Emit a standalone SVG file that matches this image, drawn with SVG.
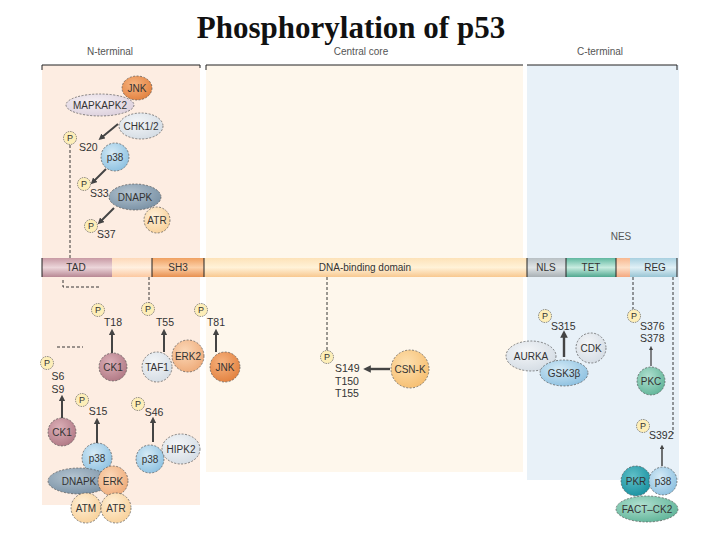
<svg xmlns="http://www.w3.org/2000/svg" width="720" height="540" viewBox="0 0 720 540">
<defs>
<style>
.t{font-family:"Liberation Sans",Arial,sans-serif;font-size:10.5px;fill:#333;}
.tc{font-family:"Liberation Sans",Arial,sans-serif;font-size:10px;fill:#333;text-anchor:middle;}
.lb{font-family:"Liberation Sans",Arial,sans-serif;font-size:10.5px;fill:#333;text-anchor:middle;}
.hd{font-family:"Liberation Sans",Arial,sans-serif;font-size:10px;fill:#555;text-anchor:middle;}
.n{stroke:#555;stroke-width:0.7;stroke-dasharray:2,1.5;}
.pc{fill:#fdeeb8;stroke:#555;stroke-width:0.7;stroke-dasharray:1.5,1;}
.pt{font-family:"Liberation Sans",Arial,sans-serif;font-size:9px;fill:#333;text-anchor:middle;}
.dash{stroke:#222;stroke-width:0.9;stroke-dasharray:3,2;fill:none;}
.arr{stroke:#444;stroke-width:2;fill:none;marker-end:url(#ah);}
.edge{stroke:#222;stroke-width:1;fill:none;}
</style>
<marker id="ah" viewBox="0 0 10 10" refX="5" refY="5" markerWidth="3.2" markerHeight="3.2" orient="auto"><path d="M0,0 L10,5 L0,10 z" fill="#444"/></marker>
<linearGradient id="bar" x1="0" y1="0" x2="0" y2="1"><stop offset="0" stop-color="#fde2b8"/><stop offset="0.5" stop-color="#fff2d8"/><stop offset="1" stop-color="#f8c890"/></linearGradient>
<linearGradient id="tad" x1="0" y1="0" x2="0" y2="1"><stop offset="0" stop-color="#c89aa4"/><stop offset="0.5" stop-color="#ecd6da"/><stop offset="1" stop-color="#b88894"/></linearGradient>
<linearGradient id="sh3" x1="0" y1="0" x2="0" y2="1"><stop offset="0" stop-color="#f0a060"/><stop offset="0.5" stop-color="#fcd0a8"/><stop offset="1" stop-color="#e89050"/></linearGradient>
<linearGradient id="nls" x1="0" y1="0" x2="0" y2="1"><stop offset="0" stop-color="#b8c0c4"/><stop offset="0.5" stop-color="#e0e4e6"/><stop offset="1" stop-color="#a8b0b4"/></linearGradient>
<linearGradient id="tet" x1="0" y1="0" x2="0" y2="1"><stop offset="0" stop-color="#60b8a0"/><stop offset="0.5" stop-color="#c8ece0"/><stop offset="1" stop-color="#50a890"/></linearGradient>
<linearGradient id="reg" x1="0" y1="0" x2="0" y2="1"><stop offset="0" stop-color="#a8d0e0"/><stop offset="0.5" stop-color="#e0f0f6"/><stop offset="1" stop-color="#98c4d4"/></linearGradient>
<linearGradient id="gap" x1="0" y1="0" x2="0" y2="1"><stop offset="0" stop-color="#f8b890"/><stop offset="0.5" stop-color="#fde0c8"/><stop offset="1" stop-color="#f4a880"/></linearGradient>
<linearGradient id="gapL" x1="0" y1="0" x2="0" y2="1"><stop offset="0" stop-color="#fdd8b8"/><stop offset="0.5" stop-color="#fff0e0"/><stop offset="1" stop-color="#fcc8a0"/></linearGradient>
<radialGradient id="gOr" cx="0.4" cy="0.35" r="0.7"><stop offset="0" stop-color="#f6b480"/><stop offset="1" stop-color="#e2803e"/></radialGradient>
<radialGradient id="gPe" cx="0.4" cy="0.35" r="0.7"><stop offset="0" stop-color="#fbd8b8"/><stop offset="1" stop-color="#eeaa78"/></radialGradient>
<radialGradient id="gLp" cx="0.4" cy="0.35" r="0.7"><stop offset="0" stop-color="#fff0d8"/><stop offset="1" stop-color="#f8d098"/></radialGradient>
<radialGradient id="gBl" cx="0.4" cy="0.35" r="0.7"><stop offset="0" stop-color="#d4eaf6"/><stop offset="1" stop-color="#8cc0e0"/></radialGradient>
<radialGradient id="gGr" cx="0.4" cy="0.35" r="0.7"><stop offset="0" stop-color="#f4f6f8"/><stop offset="1" stop-color="#d4dce4"/></radialGradient>
<radialGradient id="gLav" cx="0.4" cy="0.35" r="0.7"><stop offset="0" stop-color="#f6f0f4"/><stop offset="1" stop-color="#dcd0dc"/></radialGradient>
<radialGradient id="gMa" cx="0.4" cy="0.35" r="0.7"><stop offset="0" stop-color="#dcb0b8"/><stop offset="1" stop-color="#b07884"/></radialGradient>
<radialGradient id="gSl" cx="0.4" cy="0.35" r="0.7"><stop offset="0" stop-color="#b4c4d0"/><stop offset="1" stop-color="#7890a4"/></radialGradient>
<radialGradient id="gTe" cx="0.4" cy="0.35" r="0.7"><stop offset="0" stop-color="#b0e0d0"/><stop offset="1" stop-color="#60b498"/></radialGradient>
<radialGradient id="gTd" cx="0.4" cy="0.35" r="0.7"><stop offset="0" stop-color="#60c0c8"/><stop offset="1" stop-color="#1890a0"/></radialGradient>
<radialGradient id="gCs" cx="0.4" cy="0.35" r="0.7"><stop offset="0" stop-color="#fde0b0"/><stop offset="1" stop-color="#f6be70"/></radialGradient>
</defs>

<rect width="720" height="540" fill="#fff"/>

<!-- panels -->
<rect x="42" y="65" width="158" height="440" fill="#fdede2"/>
<rect x="206" y="65" width="317" height="407" fill="#fef7ec"/>
<rect x="527" y="65" width="152" height="415" fill="#e8f1f8"/>
<path class="edge" d="M42,70 V65 H200 V68"/>
<path class="edge" d="M206,70 V65 H523"/>
<path class="edge" d="M527,65 H677 V70"/>

<text x="351" y="38" font-family="Liberation Serif,serif" font-size="31" font-weight="bold" text-anchor="middle" fill="#111">Phosphorylation of p53</text>
<text class="hd" x="110" y="55">N-terminal</text>
<text class="hd" x="361" y="55">Central core</text>
<text class="hd" x="600" y="55">C-terminal</text>
<text class="hd" x="621" y="240">NES</text>

<!-- domain bar -->
<g id="bar-domains">
<rect x="42" y="258" width="635" height="19" fill="url(#bar)"/>
<rect x="112" y="258" width="40" height="19" fill="url(#gapL)"/>
<rect x="42" y="258" width="70" height="19" fill="url(#tad)"/>
<rect x="152" y="258" width="52" height="19" fill="url(#sh3)"/>
<rect x="527" y="258" width="39" height="19" fill="url(#nls)"/>
<rect x="566" y="258" width="50" height="19" fill="url(#tet)"/>
<rect x="616" y="258" width="14" height="19" fill="url(#gap)"/>
<rect x="630" y="258" width="47" height="19" fill="url(#reg)"/>
<path stroke="#222" stroke-width="1" d="M42,258V277M152,258V277M204,258V277M527,258V277M566,258V277M616,258V277M677,258V277"/>
<text class="tc" x="76" y="271">TAD</text>
<text class="tc" x="178" y="271">SH3</text>
<text class="tc" x="365" y="271">DNA-binding domain</text>
<text class="tc" x="546" y="271">NLS</text>
<text class="tc" x="591" y="271">TET</text>
<text class="tc" x="655" y="271">REG</text>
</g>

<!-- connectors -->
<g id="connectors">
<path class="dash" d="M70,145V258"/>
<path class="dash" d="M63,280V287H100"/>
<path class="dash" d="M57,347H83"/>
<path class="dash" d="M149,277V303"/>
<path class="dash" d="M327,277V350"/>
<path class="dash" d="M633,277V309"/>
<path class="dash" d="M673,277V434"/>
<path class="arr" d="M118,124L101,138"/>
<path class="arr" d="M106,169L93,182"/>
<path class="arr" d="M114,208L100,222"/>
<path class="arr" d="M112,353V332"/>
<path class="arr" d="M164,352V332"/>
<path class="arr" d="M216,352V332"/>
<path class="arr" d="M62,418V398"/>
<path class="arr" d="M97,443V421"/>
<path class="arr" d="M153,442V420"/>
<path class="arr" d="M390,369H367" style="stroke-width:2.4"/>
<path class="arr" d="M564,357V334" style="stroke-width:2.4"/>
<path class="arr" d="M651,366V348" style="stroke-width:1.3"/>
<path class="arr" d="M662,466V447" style="stroke-width:1.5"/>
</g>

<!-- upper N-terminal -->
<g id="jnk1"><ellipse class="n" cx="137" cy="88" rx="15" ry="12" fill="url(#gOr)"/><text class="tc" x="137" y="92">JNK</text></g>
<g id="mapkapk2"><ellipse class="n" cx="100" cy="105" rx="34" ry="11" fill="url(#gLav)"/><text class="tc" x="100" y="109">MAPKAPK2</text></g>
<g id="chk12"><ellipse class="n" cx="141" cy="126" rx="22" ry="13" fill="url(#gGr)"/><text class="tc" x="141" y="130">CHK1/2</text></g>
<g id="p-s20"><circle class="pc" cx="70" cy="138" r="6.5"/><text class="pt" x="70" y="141">P</text><text class="t" x="79" y="151">S20</text></g>
<g id="p38a"><circle class="n" cx="115" cy="157" r="14" fill="url(#gBl)"/><text class="tc" x="115" y="161">p38</text></g>
<g id="p-s33"><circle class="pc" cx="84" cy="184" r="6.5"/><text class="pt" x="84" y="187">P</text><text class="t" x="90" y="197">S33</text></g>
<g id="dnapk1"><ellipse class="n" cx="135" cy="197" rx="26" ry="13" fill="url(#gSl)"/><text class="tc" x="135" y="201">DNAPK</text></g>
<g id="atr1"><circle class="n" cx="157" cy="220" r="13" fill="url(#gLp)"/><text class="tc" x="157" y="224">ATR</text></g>
<g id="p-s37"><circle class="pc" cx="91" cy="226" r="6.5"/><text class="pt" x="91" y="229">P</text><text class="t" x="97" y="238">S37</text></g>

<!-- lower N-terminal -->
<g id="p-t18"><circle class="pc" cx="98" cy="310" r="6.5"/><text class="pt" x="98" y="313">P</text><text class="lb" x="113" y="326">T18</text></g>
<g id="ck1a"><circle class="n" cx="113" cy="367" r="14" fill="url(#gMa)"/><text class="tc" x="113" y="371">CK1</text></g>
<g id="p-t55"><circle class="pc" cx="148" cy="309" r="6.5"/><text class="pt" x="148" y="312">P</text><text class="lb" x="165" y="326">T55</text></g>
<g id="taf1"><circle class="n" cx="157" cy="367" r="15" fill="url(#gGr)"/><text class="tc" x="157" y="371">TAF1</text></g>
<g id="erk2"><circle class="n" cx="188" cy="356" r="16" fill="url(#gPe)"/><text class="tc" x="188" y="360">ERK2</text></g>
<g id="p-t81"><circle class="pc" cx="201" cy="310" r="6.5"/><text class="pt" x="201" y="313">P</text><text class="lb" x="216" y="326">T81</text></g>
<g id="jnk2"><circle class="n" cx="225" cy="367" r="15" fill="url(#gOr)"/><text class="tc" x="225" y="371">JNK</text></g>
<g id="p-s6s9"><circle class="pc" cx="47" cy="363" r="6.5"/><text class="pt" x="47" y="366">P</text><text class="lb" x="58" y="380">S6</text><text class="lb" x="58" y="393">S9</text></g>
<g id="ck1b"><circle class="n" cx="62" cy="432" r="14" fill="url(#gMa)"/><text class="tc" x="62" y="436">CK1</text></g>
<g id="p-s15"><circle class="pc" cx="82" cy="400" r="6.5"/><text class="pt" x="82" y="403">P</text><text class="lb" x="98" y="415">S15</text></g>
<g id="p38b"><circle class="n" cx="97" cy="458" r="15" fill="url(#gBl)"/><text class="tc" x="97" y="462">p38</text></g>
<g id="dnapk2"><ellipse class="n" cx="79" cy="481" rx="31" ry="13" fill="url(#gSl)"/><text class="tc" x="79" y="485">DNAPK</text></g>
<g id="erk"><circle class="n" cx="113" cy="481" r="15" fill="url(#gPe)"/><text class="tc" x="113" y="485">ERK</text></g>
<g id="atm"><circle class="n" cx="86" cy="508" r="15" fill="url(#gLp)"/><text class="tc" x="86" y="512">ATM</text></g>
<g id="atr2"><circle class="n" cx="116" cy="508" r="15" fill="url(#gLp)"/><text class="tc" x="116" y="512">ATR</text></g>
<g id="p-s46"><circle class="pc" cx="138" cy="404" r="6.5"/><text class="pt" x="138" y="407">P</text><text class="lb" x="154" y="416">S46</text></g>
<g id="p38c"><circle class="n" cx="150" cy="459" r="14" fill="url(#gBl)"/><text class="tc" x="150" y="463">p38</text></g>
<g id="hipk2"><ellipse class="n" cx="181" cy="449" rx="19" ry="15" fill="url(#gGr)"/><text class="tc" x="181" y="453">HIPK2</text></g>

<!-- central -->
<g id="p-s149"><circle class="pc" cx="327" cy="357" r="6.5"/><text class="pt" x="327" y="360">P</text><text class="t" x="335" y="372">S149</text><text class="t" x="335" y="385">T150</text><text class="t" x="335" y="397">T155</text></g>
<g id="csnk"><circle class="n" cx="410" cy="369" r="19" fill="url(#gCs)"/><text class="tc" x="410" y="373">CSN-K</text></g>

<!-- C-terminal -->
<g id="p-s315"><circle class="pc" cx="545" cy="316" r="6.5"/><text class="pt" x="545" y="319">P</text><text class="t" x="551" y="330">S315</text></g>
<g id="aurka"><ellipse class="n" cx="531" cy="356" rx="25" ry="15" fill="url(#gGr)"/><text class="tc" x="531" y="360">AURKA</text></g>
<g id="cdk"><circle class="n" cx="591" cy="348" r="15" fill="url(#gGr)"/><text class="tc" x="591" y="352">CDK</text></g>
<g id="gsk3b"><ellipse class="n" cx="564" cy="373" rx="24" ry="13" fill="url(#gBl)"/><text class="tc" x="564" y="377">GSK3β</text></g>
<g id="p-s376"><circle class="pc" cx="634" cy="316" r="6.5"/><text class="pt" x="634" y="319">P</text><text class="t" x="640" y="330">S376</text><text class="t" x="640" y="342">S378</text></g>
<g id="pkc"><circle class="n" cx="651" cy="381" r="14" fill="url(#gTe)"/><text class="tc" x="651" y="385">PKC</text></g>
<g id="p-s392"><circle class="pc" cx="643" cy="426" r="6.5"/><text class="pt" x="643" y="429">P</text><text class="t" x="649" y="439">S392</text></g>
<g id="pkr"><circle class="n" cx="636" cy="481" r="15" fill="url(#gTd)"/><text class="tc" x="636" y="485">PKR</text></g>
<g id="p38d"><circle class="n" cx="663" cy="481" r="14" fill="url(#gBl)"/><text class="tc" x="663" y="485">p38</text></g>
<g id="factck2"><ellipse class="n" cx="647" cy="509" rx="31" ry="13" fill="url(#gTe)"/><text class="tc" x="647" y="513">FACT–CK2</text></g>
</svg>
